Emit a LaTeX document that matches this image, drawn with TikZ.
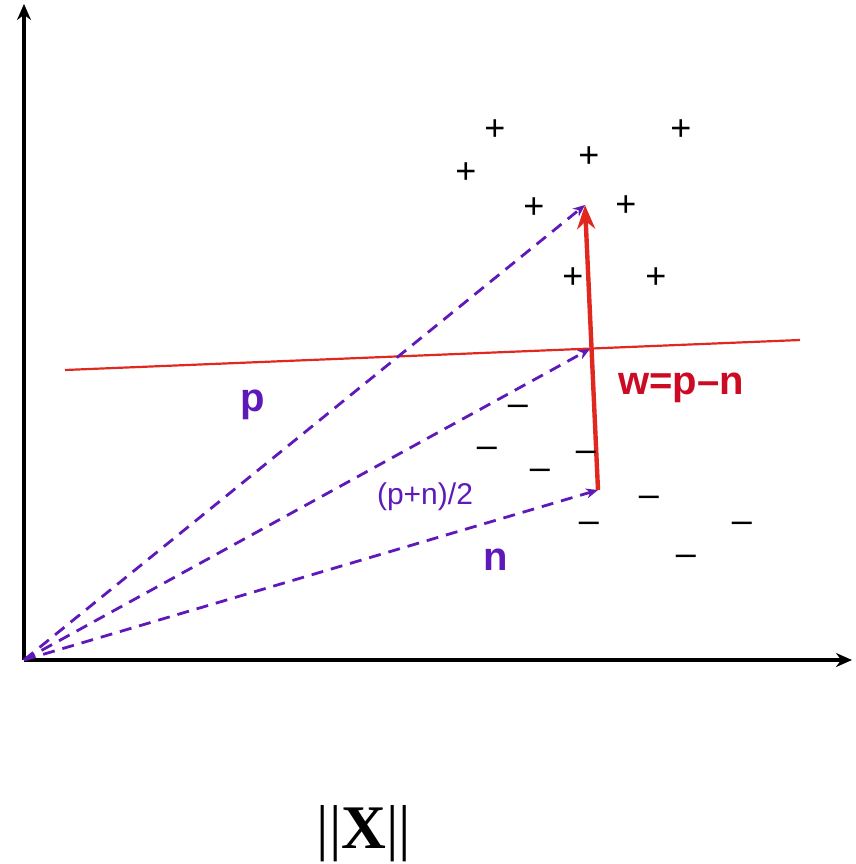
\documentclass[tikz,border=0pt]{standalone}
\usepackage{fontspec}
\setmainfont{Liberation Sans}
\newfontfamily\timesfont{Liberation Serif}
\usetikzlibrary{arrows.meta}

\definecolor{vecpurple}{RGB}{95,25,185}
\definecolor{wred}{RGB}{225,40,30}
\definecolor{labred}{RGB}{205,10,35}

\begin{document}
\begin{tikzpicture}[x=0.5pt, y=-0.5pt, >=Stealth,
  axis/.style={line width=1.6pt, -{Stealth[length=8pt, width=7pt]}},
  vecline/.style={vecpurple, line width=1.4pt, dash pattern=on 6pt off 4pt, -{Stealth[length=6pt, width=5pt]}},
  plane/.style={wred, line width=1.1pt},
  wvec/.style={wred, line width=2.2pt, -{Stealth[length=12pt, width=9pt]}},
  veclabel/.style={vecpurple, font=\fontsize{20}{24}\selectfont\bfseries, inner sep=0pt},
  pt/.style={font=\fontsize{18}{20}\selectfont, inner sep=0pt}]
\useasboundingbox (0,0) rectangle (856,864);
% axes
\coordinate (O) at (24,660);
\coordinate (ytop) at (24,4);
\coordinate (xend) at (852,660);
\draw[axis] (O)--(ytop);
\draw[axis] (O)--(xend);
% separating line
\coordinate (hl) at (65,370);
\coordinate (hr) at (800,340);
\draw[plane] (hl)--(hr);
% vectors
\coordinate (P) at (585,205);
\coordinate (M) at (590,349);
\coordinate (N) at (598,490);
\draw[vecline] (O)--(P);
\draw[vecline] (O)--(M);
\draw[vecline] (O)--(N);
\draw[wvec] (N)--(P);
% labels
\node[veclabel] (plab) at (253,405) {p};
\node[veclabel] (nlab) at (496,560) {n};
\node[vecpurple, font=\fontsize{15}{18}\selectfont, inner sep=0pt] (mlab) at (425,497) {(p+n)/2};
\node[labred, font=\fontsize{20}{24}\selectfont\bfseries, inner sep=0pt] (wlab) at (681,388) {w=p--n};
% class points
\foreach \x/\y [count=\i] in {495/130, 681/130, 589/157, 466/173, 534/208, 626/206, 573/278, 656/278}
  \node[pt] (plus\i) at (\x,\y) {+};
\foreach \x/\y [count=\i] in {518/410, 487/452, 540/474, 586/456, 649/501, 589/527, 742/527, 686/560}
  \node[pt] (minus\i) at (\x,\y) {--};
% norm
\node[font=\fontsize{31}{34}\selectfont\timesfont, inner sep=0pt] (norm) at (364,834) {||\textbf{X}||};
\end{tikzpicture}
\end{document}
